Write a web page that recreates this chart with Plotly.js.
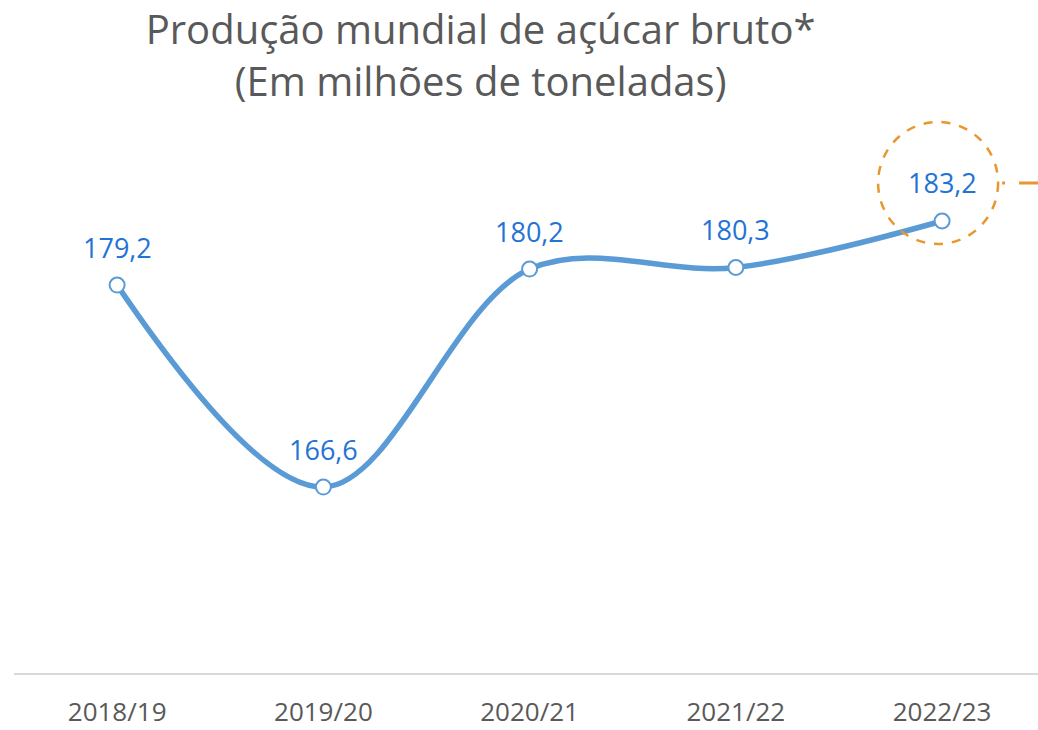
<!DOCTYPE html>
<html>
<head>
<meta charset="utf-8">
<script src="https://cdn.plot.ly/plotly-3.0.1.min.js"></script>
<style>html,body{margin:0;padding:0;background:#fff}#chart{width:1038px;height:730px}</style>
</head>
<body>
<div id="chart"></div>
<script>
const categories = ["2018/19", "2019/20", "2020/21", "2021/22", "2022/23"];
const production = [179.2, 166.6, 180.2, 180.3, 183.2];
const labels = ["179,2", "166,6", "180,2", "180,3", "183,2"];
const highlightIndex = 4;

const lineColor = "#5B9BD5";
const labelColor = "#2373D6";
const orange = "#E8962E";

const trace = {
  x: categories.map((c, i) => i),
  y: production,
  type: "scatter",
  mode: "lines+markers",
  line: {color: lineColor, width: 5.5, shape: "spline", smoothing: 1},
  marker: {size: 15, color: "#ffffff", line: {color: lineColor, width: 2}},
  hoverinfo: "skip"
};

const annotations = production.map((v, i) => ({
  x: i, y: v, xref: "x", yref: "y",
  text: labels[i], showarrow: false,
  yshift: 38,
  font: {family: "Open Sans, Noto Sans, sans-serif", size: 27, color: labelColor}
}));

const shapes = [
  {
    type: "circle", xref: "x", yref: "y",
    xsizemode: "pixel", ysizemode: "pixel",
    xanchor: highlightIndex, yanchor: production[highlightIndex],
    x0: -64, x1: 56, y0: -23, y1: 99,
    line: {color: orange, width: 2.5, dash: "dash"},
    fillcolor: "rgba(0,0,0,0)"
  },
  {
    type: "line", xref: "x", yref: "y",
    xsizemode: "pixel", ysizemode: "pixel",
    xanchor: highlightIndex, yanchor: production[highlightIndex],
    x0: 60, x1: 100, y0: 38, y1: 38,
    line: {color: orange, width: 3, dash: "3px,14px,24px"}
  }
];

const layout = {
  width: 1038, height: 730,
  margin: {l: 14, r: 0, t: 112, b: 57},
  paper_bgcolor: "#ffffff", plot_bgcolor: "#ffffff",
  showlegend: false,
  title: {
    text: "Produção mundial de açúcar bruto*<br>(Em milhões de toneladas)",
    font: {family: "Open Sans, Noto Sans, sans-serif", size: 40, color: "#595959"},
    x: 0.463, xanchor: "center", xref: "container",
    y: 0.94, yanchor: "top", yref: "container"
  },
  xaxis: {
    range: [-0.5, 4.465],
    tickvals: [0, 1, 2, 3, 4],
    ticktext: categories,
    showgrid: false, zeroline: false,
    showline: true, linecolor: "#D9D9D9", linewidth: 2,
    ticks: "", ticklabelstandoff: 15,
    tickfont: {family: "Open Sans, Noto Sans, sans-serif", size: 26, color: "#595959"},
    fixedrange: true
  },
  yaxis: {
    range: [155, 190],
    visible: false,
    showgrid: false, zeroline: false,
    fixedrange: true
  },
  annotations: annotations,
  shapes: shapes
};

Plotly.newPlot("chart", [trace], layout, {displayModeBar: false, staticPlot: true});
</script>
</body>
</html>
